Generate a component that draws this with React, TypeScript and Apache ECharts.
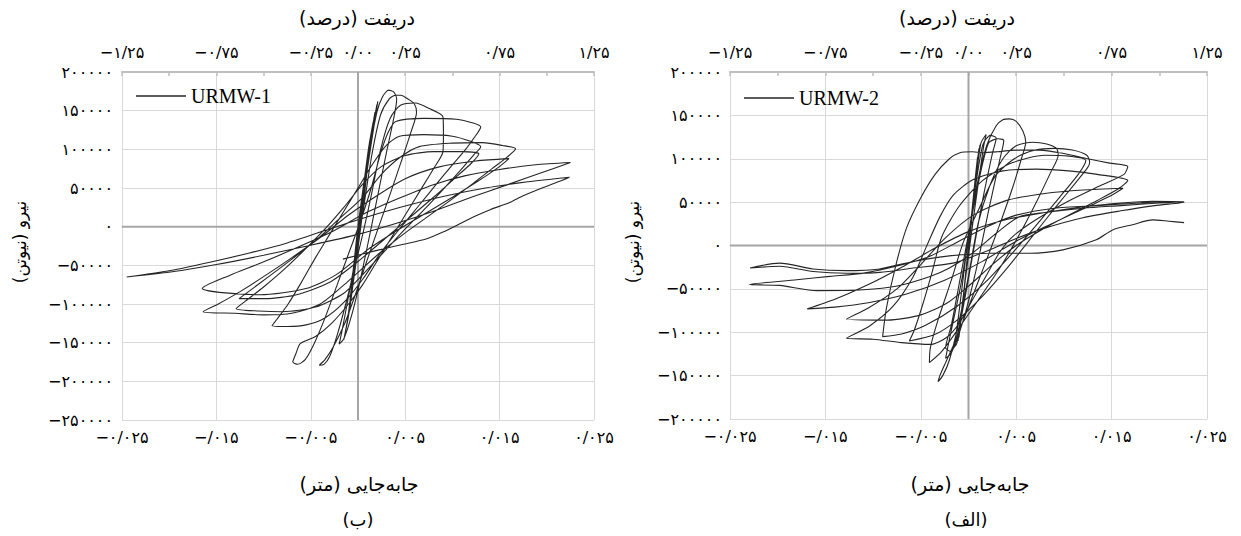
import React, { useEffect, useRef } from 'react';
import * as echarts from 'echarts';

// Displacement (mm) and force (kN) pairs, in path order
const urmw1MmKn: [number, number][] = [
  [0, 0],
  [0.7, 60], [1.3, 115], [1.1, 100], [0.5, 45], [0, 0], [-0.5, -55], [-0.85, -95], [-0.55, -70], [0, -15],
  [0.8, 70], [1.6, 135], [1.35, 118], [0.6, 55], [-0.1, -10], [-0.7, -80], [-1.05, -118], [-0.7, -90], [0.1, -10],
  [0.9, 80], [1.8, 148], [1.55, 130], [0.75, 65], [-0.05, -5], [-0.8, -92], [-1.2, -128], [-0.8, -100], [0.2, -5],
  [1.0, 85], [2.0, 158], [1.75, 140], [0.9, 72], [0, -10], [-0.9, -105], [-1.4, -140], [-1.0, -115], [0.3, 0],
  [1.1, 88], [2.1, 162], [1.85, 142], [1.0, 75], [0.1, -8], [-0.95, -110], [-1.5, -146], [-1.1, -120], [0.3, 0],
  [1.2, 95], [2.0, 148], [2.6, 168], [3.24, 176.5], [3.8, 174], [4.1, 165], [3.7, 135], [3.0, 95], [2.0, 35], [1.0, -25], [0, -82], [-0.8, -120], [-1.5, -145], [-2.0, -152], [-1.7, -135], [-1.0, -90], [-0.2, -35], [0.6, 25],
  [1.5, 95], [2.4, 145], [3.3, 165], [4.0, 170], [4.55, 170], [5.3, 165], [5.96, 159], [6.2, 148], [5.6, 122], [4.6, 85], [3.4, 42], [2.2, 0], [1.0, -42], [-0.2, -85], [-1.4, -125], [-2.6, -155], [-3.5, -172], [-4.1, -179], [-3.6, -178], [-3.0, -168], [-2.2, -140], [-1.3, -100], [-0.4, -55], [0.5, -10], [1.4, 40],
  [2.4, 100], [3.4, 140], [4.5, 157], [6.1, 160], [7.5, 153], [9.0, 142], [9.05, 120], [9.0, 97], [8.0, 75], [6.5, 45], [5.0, 15], [3.5, -15], [2.0, -45], [0.5, -75], [-1.0, -100], [-2.8, -125], [-4.5, -142], [-6.1, -151], [-6.6, -165], [-6.9, -175], [-6.4, -178], [-5.6, -172], [-4.6, -150], [-3.4, -115], [-2.2, -75], [-1.0, -35], [0.2, 5], [1.4, 50],
  [2.4, 95], [3.2, 122], [4.0, 136], [7.0, 140], [10.4, 139], [12.2, 134], [13.0, 129], [12.3, 115], [11.4, 100], [10.0, 80], [8.3, 55], [6.5, 28], [4.6, 0], [2.5, -32], [0.5, -68], [-1.5, -98], [-3.5, -118], [-5.5, -127], [-7.5, -129], [-9.1, -128], [-8.6, -120], [-7.4, -100], [-6.0, -72], [-4.5, -40], [-3.0, -10], [-1.5, 20], [0, 50],
  [1.5, 80], [3.0, 105], [4.4, 117], [7.0, 119], [10.0, 117], [12.0, 110], [13.0, 103.5], [12.2, 92], [10.8, 72], [9.0, 48], [7.0, 22], [5.0, -3], [2.8, -32], [0.5, -62], [-1.5, -86], [-4.5, -104], [-8.0, -110], [-10.5, -109], [-12.9, -106], [-12.0, -97], [-10.0, -78], [-7.8, -55], [-5.5, -28], [-3.5, -3], [-1.5, 25], [0.5, 55],
  [2.5, 78], [5.0, 92], [8.0, 97], [11.0, 97], [12.8, 94], [12.0, 82], [10.2, 62], [8.0, 38], [5.5, 12], [3.0, -14], [0, -45], [-3.0, -72], [-6.5, -88], [-9.8, -93], [-12.6, -93], [-11.6, -84], [-9.5, -65], [-7.0, -42], [-4.5, -18], [-2.0, 10], [0.5, 38],
  [2.5, 68], [4.5, 90], [6.5, 103.5], [10.0, 108], [13.2, 108.7], [15.3, 105], [16.7, 100.6], [15.8, 90], [14.2, 75], [12.2, 56], [10.0, 36], [7.5, 14], [5.0, -8], [2.2, -35], [-1.0, -70], [-4.0, -100], [-7.0, -112], [-10.0, -114], [-13.0, -112], [-16.4, -110], [-14.8, -100], [-12.5, -84], [-9.8, -63], [-7.0, -40], [-4.0, -14], [-1.0, 15], [2.0, 40],
  [5.0, 62], [8.5, 77], [12.5, 85], [16.0, 88], [14.8, 76], [12.6, 58], [10.0, 38], [7.0, 16], [4.0, -6], [1.0, -30], [-2.3, -62], [-5.5, -80], [-10.4, -88], [-14.7, -85], [-16.5, -80], [-13.6, -63], [-10.5, -48],
  [-7.0, -30], [-3.0, -8], [0.85, 18], [4.4, 37], [7.9, 54], [11.4, 66], [15.0, 74], [18.8, 80], [22.5, 83],
  [19.5, 70], [16.0, 55], [12.0, 38], [8.0, 20], [4.0, 4], [0, -10], [-5.0, -24], [-10.0, -37], [-15.0, -49], [-19.5, -58], [-24.5, -65],
  [-20.0, -57], [-15.7, -46], [-11.5, -34], [-7.5, -21], [-3.5, -5], [0, 9], [4.5, 25], [9.0, 39], [13.5, 50], [18.0, 58], [22.4, 64],
  [21.0, 57], [19.5, 50], [17.5, 40], [16.0, 31], [14.0, 22], [12.5, 14], [11.0, 5], [9.0, -7], [7.2, -16], [4.7, -23], [1.9, -31], [-1.6, -42],
];

const urmw2MmKn: [number, number][] = [
  [0, 0],
  [0.5, 55], [0.95, 102], [0.75, 82], [0.25, 28], [-0.3, -32], [-0.8, -88], [-0.6, -66], [-0.1, -12],
  [0.5, 52], [1.1, 112], [0.9, 94], [0.35, 34], [-0.3, -36], [-1.0, -106], [-0.8, -86], [0, -2],
  [0.55, 58], [1.2, 116], [1.0, 98], [0.4, 36], [-0.35, -40], [-1.1, -110], [-0.85, -88], [0.05, 0],
  [0.6, 60], [1.3, 118], [1.85, 128], [1.55, 112], [0.65, 42], [-0.4, -45], [-1.2, -112], [-1.7, -120], [-1.3, -102], [-0.3, -15],
  [0.7, 65], [1.5, 116], [2.3, 127], [2.9, 124], [2.5, 106], [1.4, 48], [0.1, -32], [-1.1, -100], [-1.9, -122], [-2.4, -118], [-1.8, -92], [-0.6, -22],
  [1.0, 70], [2.1, 118], [3.1, 123], [3.7, 121], [3.3, 100], [2.2, 45], [0.8, -28], [-0.6, -88], [-1.8, -124], [-2.4, -130], [-2.0, -108], [-0.8, -45],
  [0, 8], [0.9, 70], [1.9, 115], [2.9, 138], [3.6, 145], [4.3, 146], [5.0, 143], [5.7, 132], [6.0, 119], [5.6, 102], [4.6, 66], [3.2, 22], [1.7, -22], [0.2, -65], [-1.3, -108], [-2.4, -135], [-3.0, -150], [-3.2, -157], [-2.7, -150], [-2.0, -132], [-1.0, -88], [0, -35],
  [1.0, 25], [2.2, 68], [3.6, 100], [5.0, 115], [6.7, 119], [8.2, 117], [9.2, 112], [9.4, 104], [8.6, 84], [7.2, 52], [5.4, 14], [3.4, -24], [1.2, -60], [-1.0, -95], [-2.8, -122], [-4.1, -135], [-4.0, -118], [-3.2, -86], [-1.8, -40], [-0.5, 5],
  [1.0, 40], [2.8, 80], [4.8, 100], [7.0, 110], [9.0, 112], [10.9, 110], [12.4, 104], [12.7, 96], [12.5, 90], [11.2, 72], [9.2, 45], [6.8, 12], [4.2, -24], [1.5, -58], [-1.2, -86], [-3.6, -103], [-6.2, -110], [-5.7, -98], [-4.8, -68], [-3.8, -30], [-2.8, 10],
  [-1.0, 45], [1.5, 75], [4.5, 95], [8.0, 104], [10.5, 103], [12.3, 98], [11.5, 82], [9.5, 55], [7.0, 22], [4.5, -10], [1.8, -42], [-1.2, -70], [-4.5, -92], [-7.0, -102], [-9.0, -105],
  [-8.6, -72], [-7.6, -22], [-6.5, 20], [-5.0, 55], [-3.5, 82], [-2.0, 100], [-0.9, 107], [0.4, 108], [1.5, 107], [3.0, 108], [5.0, 110], [7.5, 110], [10.0, 106], [12.5, 100], [14.8, 95], [16.7, 91],
  [16.3, 82], [14.0, 70], [10.6, 52], [7.1, 30], [4.6, 10], [3.2, -9], [1.8, -36], [0.45, -62], [-0.94, -89], [-2.3, -106], [-4.0, -114], [-7.0, -112], [-10.0, -108], [-12.8, -107],
  [-10.4, -93], [-7.9, -70], [-5.8, -36], [-4.4, -1], [-3.0, 33], [-1.6, 58], [0.5, 76], [3.6, 86], [7.1, 88], [10.5, 86], [13.5, 82], [16.7, 75],
  [15.8, 66], [13.5, 52], [10.5, 35], [7.5, 17], [5.0, 0], [2.5, -22], [0.2, -45], [-2.2, -66], [-5.0, -80], [-8.5, -86], [-12.8, -85],
  [-10.5, -72], [-7.5, -50], [-5.0, -22], [-2.5, 8], [0.5, 35], [4.0, 52], [8.0, 60], [12.0, 64], [16.2, 66],
  [15.0, 58], [12.0, 42], [8.5, 24], [5.0, 5], [1.5, -18], [-2.5, -40], [-6.5, -56], [-10.5, -66], [-14.0, -71], [-16.9, -73],
  [-14.0, -62], [-10.5, -45], [-7.0, -25], [-3.5, -3], [0, 16], [4.0, 30], [8.0, 38], [12.3, 45], [16.0, 49], [19.3, 51], [22.6, 50.6],
  [20.0, 49], [16.0, 46], [12.0, 43], [8.0, 38], [5.3, 33], [3.0, 15], [0.5, -8], [-2.0, -26], [-4.1, -36], [-7.6, -47], [-11.0, -51], [-15.9, -52], [-19.8, -46], [-23.0, -45],
  [-18.0, -39.5], [-14.5, -35.6], [-11.0, -31.8], [-7.6, -24], [-4.1, -12.6], [-1.0, 5], [2.0, 22], [5.0, 35], [9.0, 43], [13.5, 46], [18.0, 49], [20.5, 50.5], [22.6, 50],
  [19.5, 46], [16.0, 40], [12.0, 32], [8.0, 20], [5.0, 8], [2.0, -6], [-1.5, -20], [-5.8, -26], [-9.3, -31], [-12.8, -32], [-16.3, -30], [-19.8, -24], [-22.9, -26],
  [-19.8, -20.3], [-16.3, -27], [-12.8, -29], [-9.3, -27], [-5.8, -18.4], [-2.0, -12], [2.2, -9], [6.4, -9], [9.9, -5], [13.4, 6.5], [15.1, 18], [17.2, 24], [19.3, 29.5], [21.0, 28], [22.6, 26.4],
];

const dispTickLabels = ['−۰/۰۲۵', '−/۰۱۵', '−۰/۰۰۵', '۰/۰۰۵', '۰/۰۱۵', '۰/۰۲۵'];
const driftTickLabels = ['−۱/۲۵', '', '−۰/۷۵', '', '−۰/۲۵', '۰/۰۰', '۰/۲۵', '', '۰/۷۵', '', '۱/۲۵'];
const seriesNames = ['URMW-1', 'URMW-2'];
const forceRanges: [number, number][] = [[-250000, 200000], [-200000, 200000]];

const FA = '۰۱۲۳۴۵۶۷۸۹';
const toFa = (s: string) => s.replace(/\d/g, (d) => FA[+d]);
const forceLabel = (v: number) => (v < 0 ? '−' : '') + toFa(String(Math.abs(v)));

const GRID = '#d9d9d9';
const LINE = '#262626';
const FONT_FA = 'DejaVu Sans';

function buildOption() {
  const grids = [
    { left: 122, top: 72, width: 472, height: 348 },
    { left: 730, top: 72, width: 477, height: 347 },
  ];
  const xAxes: any[] = [];
  const yAxes: any[] = [];
  const series: any[] = [];
  const datasets = [urmw1MmKn, urmw2MmKn];
  grids.forEach((_, i) => {
    xAxes.push({
      gridIndex: i, type: 'value', position: 'bottom', min: -0.025, max: 0.025, interval: 0.01,
      axisLine: { show: true, lineStyle: { color: GRID, width: 1 } },
      axisTick: { show: false },
      axisLabel: {
        margin: 9, color: '#000', fontSize: 16, fontFamily: FONT_FA,
        formatter: (v: number) => dispTickLabels[Math.round((v + 0.025) / 0.01)] ?? '',
      },
      splitLine: { show: true, lineStyle: { color: GRID, width: 1 } },
    });
    xAxes.push({
      gridIndex: i, type: 'value', position: 'top', min: -1.25, max: 1.25, interval: 0.25,
      axisLine: { show: true, lineStyle: { color: '#bfbfbf', width: 2 } },
      axisTick: { show: true, inside: true, length: 4, lineStyle: { color: '#bfbfbf', width: 1.5 } },
      axisLabel: {
        margin: 12, color: '#000', fontSize: 16, fontFamily: FONT_FA,
        formatter: (v: number) => driftTickLabels[Math.round((v + 1.25) / 0.25)] ?? '',
      },
      splitLine: { show: false },
    });
    yAxes.push({
      gridIndex: i, type: 'value', min: forceRanges[i][0], max: forceRanges[i][1], interval: 50000,
      axisLine: { show: true, onZero: false, lineStyle: { color: GRID, width: 1 } },
      axisTick: { show: false },
      axisLabel: { margin: i === 0 ? 9 : 8, color: '#000', fontSize: 16, fontFamily: FONT_FA, formatter: forceLabel },
      splitLine: { show: true, lineStyle: { color: GRID, width: 1 } },
    });
    series.push({
      name: 'zeroV' + i, type: 'line', xAxisIndex: i * 2, yAxisIndex: i, silent: true, z: 1,
      symbol: 'none', data: [[0, forceRanges[i][0]], [0, forceRanges[i][1]]],
      lineStyle: { color: '#a6a6a6', width: 2 },
    });
    series.push({
      name: 'zeroH' + i, type: 'line', xAxisIndex: i * 2, yAxisIndex: i, silent: true, z: 1,
      symbol: 'none', data: [[-0.025, 0], [0.025, 0]],
      lineStyle: { color: '#a6a6a6', width: 2 },
    });
    series.push({
      name: seriesNames[i], type: 'line', xAxisIndex: i * 2, yAxisIndex: i, z: 3,
      showSymbol: false, symbol: 'none', smooth: 0.25,
      data: datasets[i].map(([d, f]) => [d / 1000, f * 1000]),
      itemStyle: { color: LINE },
      lineStyle: { color: LINE, width: 1.1 },
    });
  });

  const legendBase = {
    selectedMode: false, icon: 'rect', itemWidth: 50, itemHeight: 1.5,
    textStyle: { fontFamily: 'Liberation Serif', fontSize: 20, color: '#000' },
  };

  const t = (x: number, y: number, text: string, size: number, rotation = 0) => ({
    type: 'text', x, y, rotation,
    style: {
      text, fontSize: size, fontFamily: FONT_FA, fill: '#000',
      align: 'center', verticalAlign: 'middle', textAlign: 'center', textVerticalAlign: 'middle',
    },
  });

  return {
    animation: false,
    backgroundColor: '#fff',
    grid: grids,
    xAxis: xAxes,
    yAxis: yAxes,
    legend: [
      { ...legendBase, data: [seriesNames[0]], left: 131, top: 81 },
      { ...legendBase, data: [seriesNames[1]], left: 739, top: 83 },
    ],
    series,
    graphic: [
      t(357, 18, 'دریفت (درصد)', 19),
      t(957, 18, 'دریفت (درصد)', 19),
      t(359, 484, 'جابه‌جایی (متر)', 19),
      t(970, 484, 'جابه‌جایی (متر)', 19),
      t(358, 519, '(ب)', 18),
      t(966, 519, '(الف)', 18),
      t(20, 242, 'نیرو (نیوتن)', 17, Math.PI / 2),
      t(633, 242, 'نیرو (نیوتن)', 17, Math.PI / 2),
    ],
  };
}

export default function App() {
  const ref = useRef<HTMLDivElement>(null);
  useEffect(() => {
    const chart = echarts.init(ref.current!, null, { renderer: 'svg' });
    chart.setOption(buildOption() as any);
    return () => chart.dispose();
  }, []);
  return (
    <div
      ref={ref}
      style={{ position: 'absolute', left: 0, top: 0, width: 1241, height: 536 }}
    />
  );
}
